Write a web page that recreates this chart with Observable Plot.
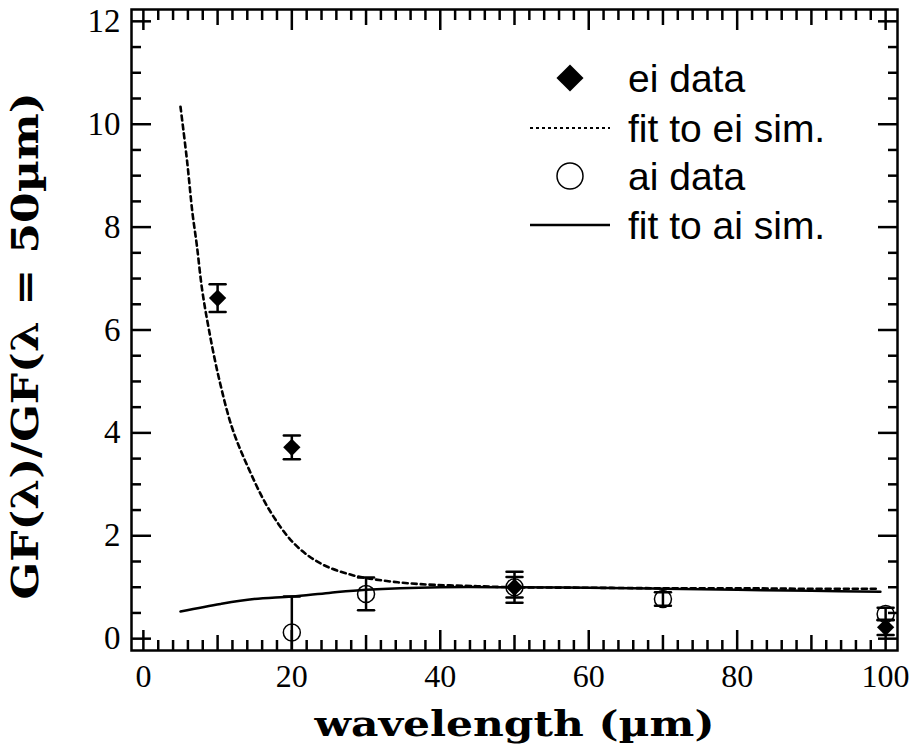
<!DOCTYPE html>
<html><head><meta charset="utf-8">
<script src="https://cdn.jsdelivr.net/npm/d3@7"></script>
<script src="https://cdn.jsdelivr.net/npm/@observablehq/plot@0.6"></script>
<style>
body{margin:0;background:#fff;}
#wrap{position:relative;width:916px;height:748px;}
#legend{position:absolute;left:0;top:0;pointer-events:none;}
</style></head><body><div id="wrap"></div>
<script>
// ---- data ----
const eiX = [10, 20, 50, 100];
const eiY = [6.62, 3.72, 1.0, 0.22];
const eiErr = [0.27, 0.23, 0.3, 0.15];

const aiX = [20, 30, 50, 70, 100];
const aiY = [0.12, 0.87, 1.0, 0.77, 0.48];
const aiErr = [0.7, 0.32, 0.2, 0.13, 0.12];

const eiFitX = [5, 5.9, 6.6, 7.2, 7.9, 8.8, 10.2, 12, 14.2, 16.9, 20.3, 23.9, 28.3, 32.8, 37.3, 45, 50, 60, 70, 80, 90, 99];
const eiFitY = [10.34, 9.27, 8.29, 7.65, 6.80, 6.03, 5.05, 4.08, 3.30, 2.52, 1.85, 1.46, 1.23, 1.12, 1.06, 1.02, 1.0, 0.99, 0.98, 0.98, 0.97, 0.97];

const aiFitX = [5, 10.4, 14.9, 20, 25, 30, 40, 50, 60, 70, 80, 90, 99.3];
const aiFitY = [0.53, 0.675, 0.77, 0.82, 0.89, 0.95, 1.0, 1.0, 0.99, 0.97, 0.95, 0.93, 0.91];

const xMajor = [0, 20, 40, 60, 80, 100];
const xMedium = [10, 30, 50, 70, 90];
const xMinor = d3.range(0, 101, 2).filter(v => v % 10 !== 0);
const yMajor = [0, 2, 4, 6, 8, 10, 12];
const yMinor = d3.range(0, 12.01, 0.5).filter(v => v % 2 !== 0);

const xTitle = "wavelength (µm)";
const yTitle = "GF(λ)/GF(λ = 50µm)";
const legendLabels = ["ei data", "fit to ei sim.", "ai data", "fit to ai sim."];

// ---- tables ----
const ei = eiX.map((x, i) => ({x, y: eiY[i], e: eiErr[i]}));
const ai = aiX.map((x, i) => ({x, y: aiY[i], e: aiErr[i]}));
const eiFit = eiFitX.map((x, i) => ({x, y: eiFitY[i]}));
const aiFit = aiFitX.map((x, i) => ({x, y: aiFitY[i]}));

const capShape = {draw(context, l) { context.moveTo(0, 0); context.lineTo(0, -l); }};
const caps = (data) => [
  Plot.vector(data, {x: "x", y: d => d.y + d.e, length: 16, rotate: 90, anchor: "middle", shape: capShape, strokeWidth: 2.5, clip: true}),
  Plot.vector(data, {x: "x", y: d => d.y - d.e, length: 16, rotate: 90, anchor: "middle", shape: capShape, strokeWidth: 2.5, clip: true})
];
const serif = "Liberation Serif";
const titleFont = "DejaVu Serif";
const tickMarks = (fn, anchor, ticks, size) => fn({anchor, ticks, tickSize: -size, strokeWidth: 2.5, fill: "none", label: null});

const chart = Plot.plot({
  width: 916, height: 748,
  marginLeft: 131, marginRight: 19, marginTop: 9, marginBottom: 98,
  x: {domain: [-1.6, 101.6], axis: null},
  y: {domain: [-0.23, 12.23], axis: null},
  style: {fontFamily: serif, background: "white", color: "black", overflow: "visible"},
  marks: [
    Plot.line(eiFit, {x: "x", y: "y", strokeWidth: 2.6, strokeDasharray: "5,4", curve: "catmull-rom"}),
    Plot.line(aiFit, {x: "x", y: "y", strokeWidth: 2.5, curve: "catmull-rom"}),
    Plot.ruleX(ai, {x: "x", y1: d => d.y - d.e, y2: d => d.y + d.e, strokeWidth: 2.5, clip: true}),
    ...caps(ai),
    Plot.dot(ai, {x: "x", y: "y", r: 8.5, stroke: "black", strokeWidth: 1.5, fill: "none"}),
    Plot.ruleX(ei, {x: "x", y1: d => d.y - d.e, y2: d => d.y + d.e, strokeWidth: 2.5, clip: true}),
    ...caps(ei),
    Plot.dot(ei, {x: "x", y: "y", r: 7.8, symbol: "diamond2", fill: "black", stroke: "none"}),
    Plot.frame({strokeWidth: 2.5}),
    tickMarks(Plot.axisX, "bottom", xMajor, 20),
    tickMarks(Plot.axisX, "bottom", xMedium, 15),
    tickMarks(Plot.axisX, "bottom", xMinor, 10),
    tickMarks(Plot.axisX, "top", xMajor, 20),
    tickMarks(Plot.axisX, "top", xMedium, 15),
    tickMarks(Plot.axisX, "top", xMinor, 10),
    tickMarks(Plot.axisY, "left", yMajor, 20),
    tickMarks(Plot.axisY, "left", yMinor, 10),
    tickMarks(Plot.axisY, "right", yMajor, 20),
    tickMarks(Plot.axisY, "right", yMinor, 10),
    Plot.axisX({anchor: "bottom", ticks: xMajor, tickSize: 0, tickPadding: 14, fontSize: 32, fontFamily: serif, label: null}),
    Plot.axisY({anchor: "left", ticks: yMajor, tickSize: 0, tickPadding: 11, fontSize: 33, fontFamily: serif, label: null}),
    Plot.axisX({anchor: "bottom", ticks: [], label: xTitle, labelAnchor: "center", labelArrow: "none", labelOffset: 85, fontSize: 36, fontWeight: "bold", fontFamily: titleFont}),
    Plot.axisY({anchor: "left", ticks: [], label: yTitle, labelAnchor: "center", labelArrow: "none", labelOffset: 120, fontSize: 37, fontWeight: "bold", fontFamily: titleFont})
  ]
});
document.getElementById("wrap").appendChild(chart);

// stretch the axis titles to the reference widths
d3.select(chart).selectAll("text").each(function() {
  const t = this.textContent;
  if (t === xTitle) d3.select(this).attr("textLength", 400).attr("lengthAdjust", "spacingAndGlyphs");
  if (t === yTitle) d3.select(this).attr("textLength", 507).attr("lengthAdjust", "spacingAndGlyphs").attr("dx", -16);
});

// ---- legend overlay (inside the frame, top right) ----
const lg = d3.select("#wrap").append("svg").attr("id", "legend").attr("width", 916).attr("height", 748);
const rows = [78, 128, 176, 225];
const symX = 570, textX = 628;
lg.append("path").attr("d", d3.symbol(d3.symbolDiamond2, Math.PI * 12.2 * 12.2)()).attr("transform", `translate(${symX},${rows[0]})`).attr("fill", "black");
lg.append("line").attr("x1", 530).attr("x2", 610).attr("y1", rows[1]).attr("y2", rows[1]).attr("stroke", "black").attr("stroke-width", 2).attr("stroke-dasharray", "3,3");
lg.append("circle").attr("cx", symX).attr("cy", rows[2]).attr("r", 13).attr("fill", "none").attr("stroke", "black").attr("stroke-width", 1.5);
lg.append("line").attr("x1", 530).attr("x2", 610).attr("y1", rows[3]).attr("y2", rows[3]).attr("stroke", "black").attr("stroke-width", 2.5);
legendLabels.forEach((t, i) => {
  lg.append("text").attr("x", textX).attr("y", rows[i]).attr("dy", "0.36em")
    .attr("font-family", "Liberation Sans").attr("font-size", 39).attr("fill", "black").text(t);
});
</script></body></html>
